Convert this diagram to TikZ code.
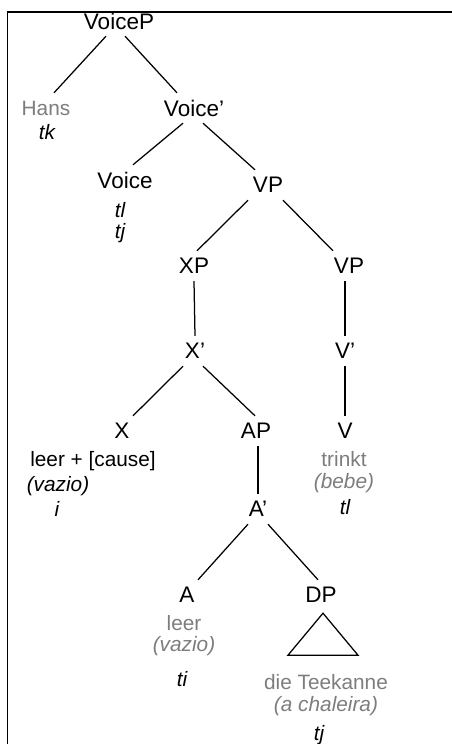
\documentclass[tikz,border=0pt]{standalone}
\usepackage{fontspec}
\setmainfont{Liberation Sans}
\usetikzlibrary{positioning}
\definecolor{wordgray}{RGB}{125,125,125}

\begin{document}
\begin{tikzpicture}[x=1pt, y=-1pt,
                    cat/.style = {
                      font=\fontsize{22.5}{27}\selectfont,
                      inner sep=0pt, minimum height=30pt,
                      text=black
                    },
                    lex/.style = {
                      font=\fontsize{20.8}{25}\selectfont,
                      inner sep=0pt, text=black
                    },
                    word/.style = {
                      lex, text=wordgray
                    },
                    gloss/.style = {
                      lex, text=wordgray, font=\fontsize{20.8}{25}\selectfont\itshape
                    },
                    trace/.style = {
                      lex, font=\fontsize{20.8}{25}\selectfont\itshape
                    },
                    branch/.style = {
                      line width=1.25pt, black
                    }]
    \useasboundingbox (0,0) rectangle (452,744);

    \node(voiceP) [cat] at (119,21) {VoiceP};
    \node(hans) [word, minimum height=30pt] at (46,108) {Hans};
    \node(hansT) [trace] at (47,132) {tk};
    \node(voiceBar) [cat] at (194,108) {Voice’};
    \node(voice) [cat] at (125,180) {Voice};
    \node(voiceTl) [trace] at (120,210) {tl};
    \node(voiceTj) [trace] at (120,233) {tj};
    \node(vp) [cat] at (268,185) {VP};

    \node(xp) [cat] at (194,266) {XP};
    \node(vpLow) [cat] at (349,266) {VP};
    \node(xBar) [cat] at (195,351) {X’};
    \node(vBar) [cat] at (345,351) {V’};
    \node(x) [cat] at (122,431) {X};
    \node(ap) [cat] at (256,431) {AP};
    \node(v) [cat] at (345,431) {V};

    \node(xWord) [lex] at (93,461) {leer + [cause]};
    \node(xGloss) [trace] at (58,486) {(vazio)};
    \node(xIdx) [trace] at (57,509) {i};
    \node(vWord) [word] at (344,459) {trinkt};
    \node(vGloss) [gloss] at (344,483) {(bebe)};
    \node(vTrace) [trace] at (345,507) {tl};

    \node(aBar) [cat] at (258,509) {A’};
    \node(a) [cat] at (187,595) {A};
    \node(dp) [cat] at (321,595) {DP};
    \node(aWord) [word] at (184,623) {leer};
    \node(aGloss) [gloss] at (184,646) {(vazio)};
    \node(aTrace) [trace] at (182,679) {ti};
    \node(dpWord) [word] at (326,682) {die Teekanne};
    \node(dpGloss) [gloss] at (326,706) {(a chaleira)};
    \node(dpTrace) [trace] at (319,735) {tj};

    \draw[branch] ([xshift=-13pt]voiceP.south) -- ([xshift=8pt]hans.north);
    \draw[branch] ([xshift=6pt]voiceP.south) -- ([xshift=-17pt]voiceBar.north);
    \draw[branch] ([xshift=-11pt]voiceBar.south) -- ([xshift=8pt]voice.north);
    \draw[branch] ([xshift=9pt]voiceBar.south) -- ([xshift=-13pt]vp.north);
    \draw[branch] ([xshift=-20pt]vp.south) -- ([xshift=3pt]xp.north);
    \draw[branch] ([xshift=15pt]vp.south) -- ([xshift=-16pt]vpLow.north);
    \draw[branch] (xp.south) -- (xBar.north);
    \draw[branch] ([xshift=-4pt]vpLow.south) -- (vBar.north);
    \draw[branch] ([xshift=-12pt]xBar.south) -- ([xshift=11pt]x.north);
    \draw[branch] ([xshift=8pt]xBar.south) -- ([xshift=-1pt]ap.north);
    \draw[branch] (vBar.south) -- (v.north);
    \draw[branch] ([xshift=2pt]ap.south) -- (aBar.north);
    \draw[branch] ([xshift=-10pt]aBar.south) -- ([xshift=11pt]a.north);
    \draw[branch] ([xshift=10pt]aBar.south) -- ([xshift=-3pt]dp.north);

    % roof over the DP
    \draw[branch] ([xshift=2pt,yshift=-3pt]dp.south) -- ++(-35,42) -- ++(70,0) -- cycle;

    % frame, cut on the right and at the bottom
    \draw[line width=1.7pt] (452,12) -- (7.5,12) -- (7.5,744);
\end{tikzpicture}
\end{document}
